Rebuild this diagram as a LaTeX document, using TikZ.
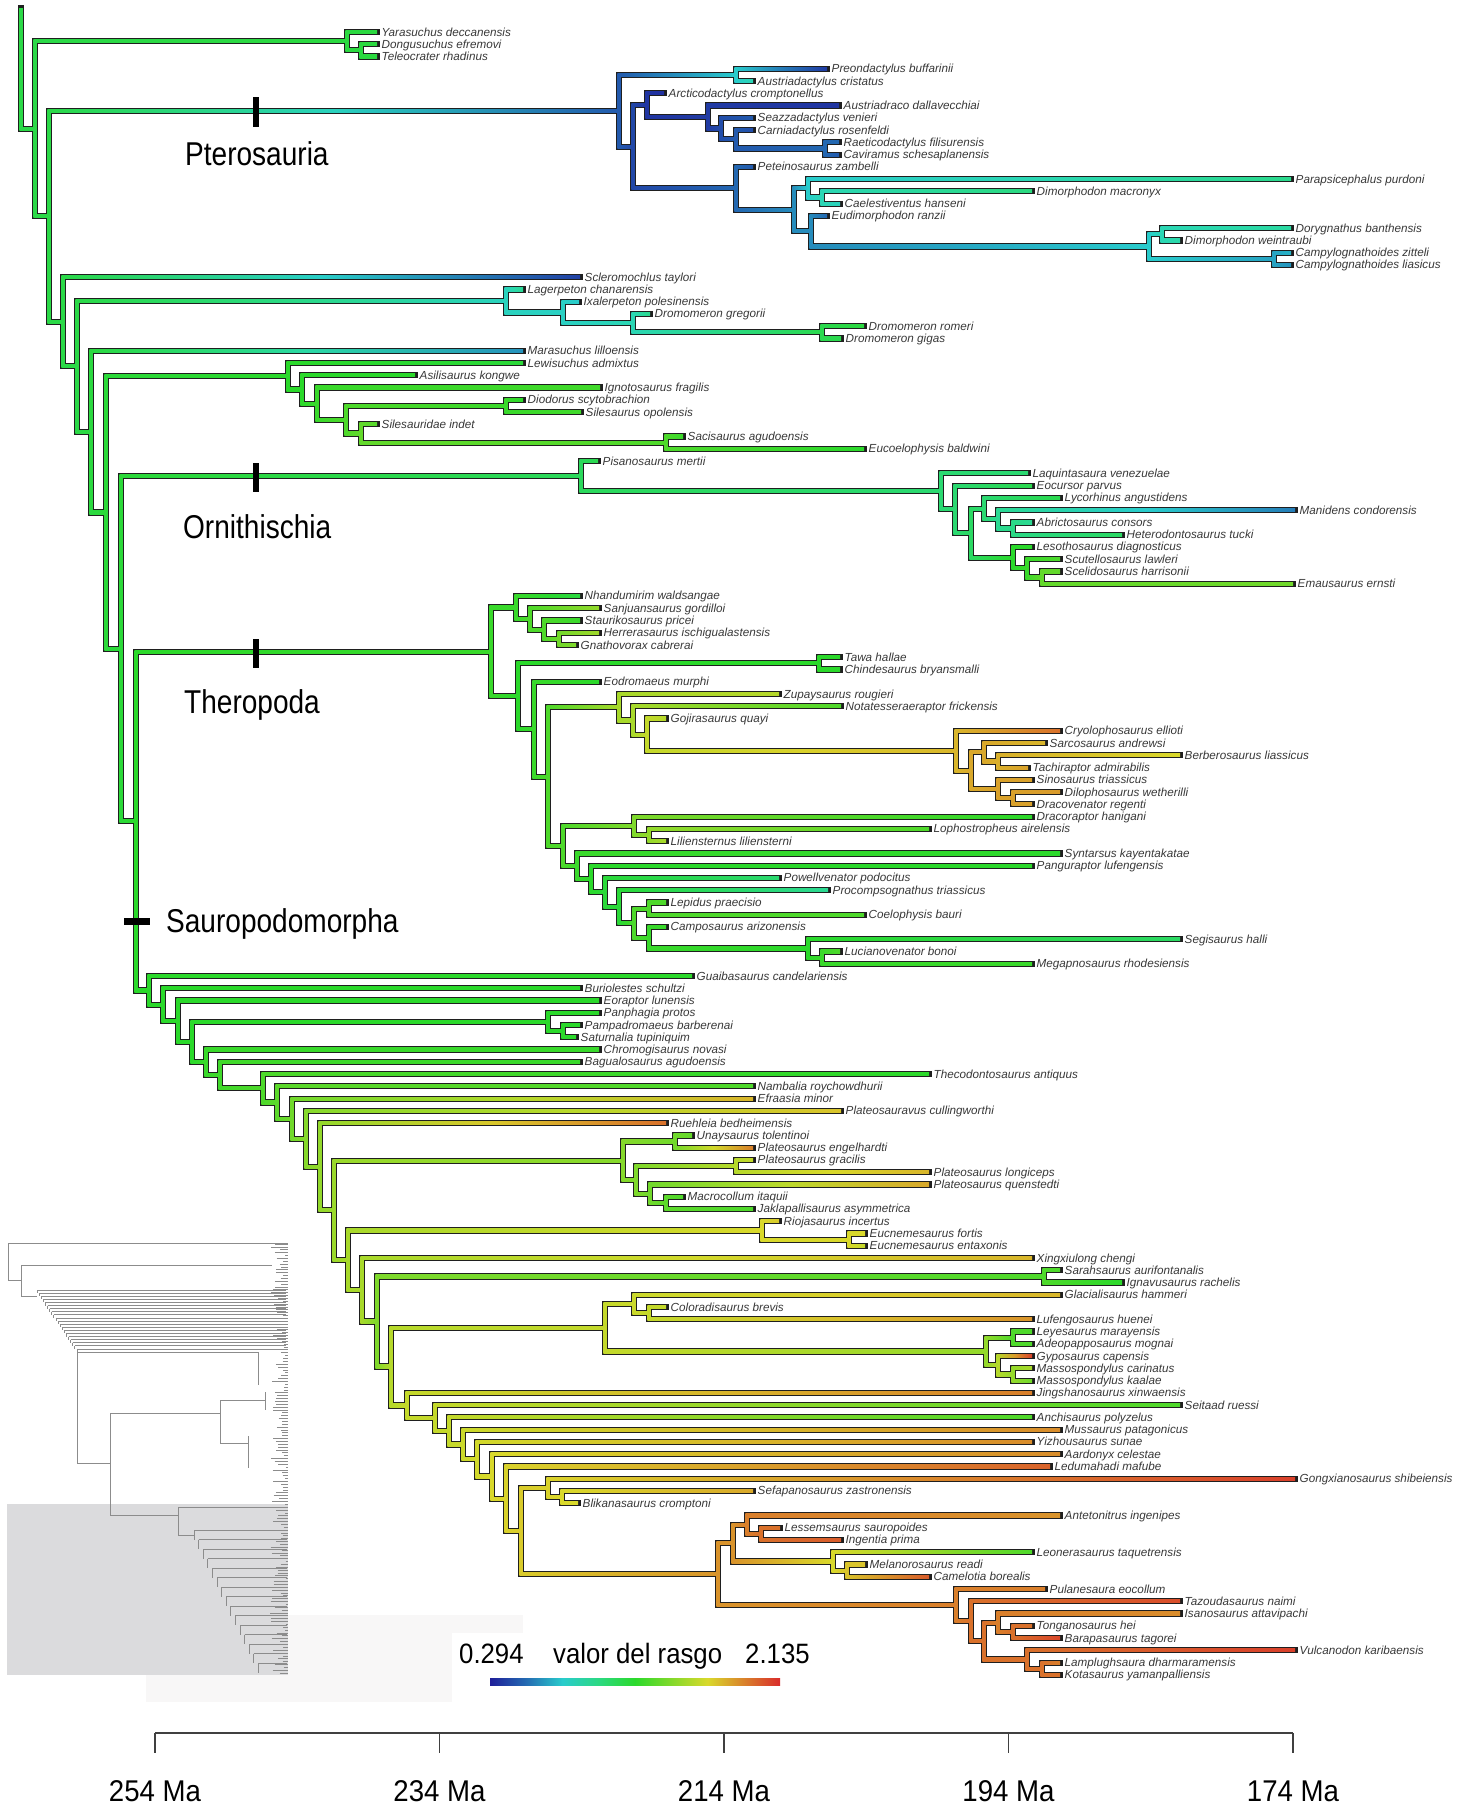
\documentclass[tikz,border=0pt]{standalone}
\usepackage{fontspec}
\setmainfont{Liberation Sans}

% trait colour: 0 = low (blue), 1 = high (red)
\newcommand\traitcol[2]{%
  \pgfmathsetmacro\tch{240*(1-(#2))}%
  \pgfmathsetmacro\tcb{min(0.85,0.6+0.8*(#2))}%
  \definecolor{traithsb}{Hsb}{\tch,0.8,\tcb}%
  \colorlet{#1}[rgb]{traithsb}}

\traitcol{rb0}{0}
\traitcol{rb1}{.125}
\traitcol{rb2}{.25}
\traitcol{rb3}{.375}
\traitcol{rb4}{.5}
\traitcol{rb5}{.625}
\traitcol{rb6}{.75}
\traitcol{rb7}{.875}
\traitcol{rb8}{1}
\pgfdeclarehorizontalshading{traitbar}{100bp}{color(0bp)=(rb0); color(25bp)=(rb0);
  color(31.25bp)=(rb1); color(37.5bp)=(rb2); color(43.75bp)=(rb3); color(50bp)=(rb4);
  color(56.25bp)=(rb5); color(62.5bp)=(rb6); color(68.75bp)=(rb7); color(75bp)=(rb8);
  color(100bp)=(rb8)}

% tree node: name, x, y, trait
\newcommand\treenode[4]{%
  \expandafter\xdef\csname nx@#1\endcsname{#2}%
  \expandafter\xdef\csname ny@#1\endcsname{#3}%
  \expandafter\xdef\csname nt@#1\endcsname{#4}%
  \coordinate (#1) at (#2,#3);}

% branch from parent to child: black rim now, coloured core later
\newcommand\corelist{}
\newcommand\brlink[2]{%
  \draw[rim] (#1) |- (#2);
  \xdef\corelist{\unexpanded\expandafter{\corelist}\noexpand\brcore{#1}{#2}}}
\newcommand\brcore[2]{%
  \edef\blpx{\csname nx@#1\endcsname}%
  \edef\blcx{\csname nx@#2\endcsname}%
  \edef\blcy{\csname ny@#2\endcsname}%
  \edef\blpt{\csname nt@#1\endcsname}%
  \edef\blct{\csname nt@#2\endcsname}%
  \traitcol{pcol}{\blpt}\traitcol{ccol}{\blct}\traitcol{mcol}{(\blpt+\blct)/2}%
  \draw[core, draw=pcol] (#1) -- (#1 |- #2);
  \shade[left color=pcol, right color=ccol, middle color=mcol]
    (\blpx-1.6,\blcy-1.6) rectangle (\blcx,\blcy+1.6);}

% leaf: name, x, row, trait, label
\newcommand\leaf[5]{%
  \pgfmathsetmacro\lfy{19.74+12.26*#3}%
  \treenode{#1}{#2}{\lfy}{#4}%
  \node[tiplab] (#1-lab) at (#2+4.5,\lfy+4) {#5};}

% clade: name, x, trait, child, child
\newcommand\clade[5]{%
  \edef\cla{\csname ny@#4\endcsname}\edef\clb{\csname ny@#5\endcsname}%
  \pgfmathsetmacro\cly{(\cla+\clb)/2}%
  \treenode{#1}{#2}{\cly}{#3}%
  \brlink{#1}{#4}\brlink{#1}{#5}}

\begin{document}
\begin{tikzpicture}[x=1pt, y=-1pt,
    rim/.style={draw=black!88, line width=6.2pt, line cap=rect},
    core/.style={line width=3.2pt},
    tiplab/.style={anchor=base west, inner sep=0pt, text=black!78, font=\fontsize{11.7}{13}\selectfont\itshape},
    cladelab/.style={anchor=base west, inner sep=0pt, xscale=.85, font=\fontsize{33}{36}\selectfont},
    ticklab/.style={anchor=base, inner sep=0pt, xscale=.92, font=\fontsize{30}{32}\selectfont},
    leglab/.style={anchor=base west, inner sep=0pt, xscale=.92, font=\fontsize{28}{30}\selectfont},
    inset/.style={draw=black!45, line width=.7pt}
]
\useasboundingbox (0,0) rectangle (1470,1807);

% Background panels
\fill[red!3!black!3] (146,1615) rectangle (523,1702);
\fill[white] (452,1633) rectangle (820,1702);
\fill[blue!5!black!14] (7,1504) rectangle (288,1675);

% Inset: whole tree in miniature
\draw[inset] (8,1243) -- (8,1280) (8,1243) -- (288,1243) (8,1280) -- (21,1280);
\draw[inset] (21,1265) -- (21,1296) (21,1265) -- (272,1265) (21,1296) -- (37,1296);
\foreach \i in {0,...,19}{
  \pgfmathsetmacro\sx{37+2.1*\i}
  \pgfmathsetmacro\sy{1290+3.1*\i}
  \draw[inset] (\sx,\sy) -- (\sx,\sy+3.1) (\sx,\sy) -- (286,\sy);
}
\draw[inset] (77,1352) -- (77,1463) (77,1352) -- (258,1352) (77,1463) -- (110,1463);
\draw[inset] (258,1352) -- (258,1385);
\draw[inset] (110,1413) -- (110,1515) (110,1413) -- (220,1413) (110,1515) -- (178,1515);
\draw[inset] (220,1400) -- (220,1443) (220,1400) -- (265,1400) (220,1443) -- (248,1443);
\draw[inset] (248,1436) -- (248,1468) (265,1392) -- (265,1410);
\draw[inset] (178,1507) -- (178,1535) (178,1507) -- (286,1507) (178,1535) -- (194,1535);
\foreach \i in {0,...,14}{
  \pgfmathsetmacro\sx{194+4.6*\i}
  \pgfmathsetmacro\sy{1530+9.5*\i}
  \draw[inset] (\sx,\sy) -- (\sx,\sy+9.5) (\sx,\sy) -- (287,\sy);
}
\pgfmathsetseed{11}
\foreach \k in {0,...,150}{
  \pgfmathsetmacro\ty{1244+2.86*\k}
  \pgfmathsetmacro\tl{2+16*rnd}
  \draw[inset] (288-\tl,\ty) -- (288,\ty);
}

% Outgroup
\leaf{yar}{377}{1}{.47}{Yarasuchus deccanensis}
\leaf{don}{377}{2}{.47}{Dongusuchus efremovi}
\leaf{tel}{377}{3}{.47}{Teleocrater rhadinus}
\clade{ya2}{361}{.47}{don}{tel}
\clade{ya1}{347}{.47}{yar}{ya2}

% Pterosaurs
\leaf{pre}{827}{4}{.05}{Preondactylus buffarinii}
\leaf{aus}{753}{5}{.3}{Austriadactylus cristatus}
\clade{p1}{736}{.25}{pre}{aus}
\leaf{arc}{664}{6}{.03}{Arcticodactylus cromptonellus}
\leaf{adr}{839}{7}{.04}{Austriadraco dallavecchiai}
\leaf{sea}{753}{8}{.1}{Seazzadactylus venieri}
\leaf{car}{753}{9}{.08}{Carniadactylus rosenfeldi}
\leaf{rae}{839}{10}{.12}{Raeticodactylus filisurensis}
\leaf{cav}{839}{11}{.1}{Caviramus schesaplanensis}
\clade{p8}{825}{.12}{rae}{cav}
\clade{p7}{736}{.1}{car}{p8}
\clade{p6}{721}{.08}{sea}{p7}
\clade{p5}{708}{.05}{adr}{p6}
\clade{p3}{647}{.04}{arc}{p5}
\leaf{pet}{753}{12}{.1}{Peteinosaurus zambelli}
\leaf{par}{1291}{13}{.36}{Parapsicephalus purdoni}
\leaf{dma}{1032}{14}{.38}{Dimorphodon macronyx}
\leaf{cae}{840}{15}{.28}{Caelestiventus hanseni}
\clade{p12}{822}{.3}{dma}{cae}
\clade{p10}{808}{.25}{par}{p12}
\leaf{eud}{827}{16}{.12}{Eudimorphodon ranzii}
\leaf{dor}{1291}{17}{.33}{Dorygnathus banthensis}
\leaf{dwe}{1180}{18}{.32}{Dimorphodon weintraubi}
\clade{pdo}{1162}{.3}{dor}{dwe}
\leaf{czi}{1291}{19}{.22}{Campylognathoides zitteli}
\leaf{cli}{1291}{20}{.18}{Campylognathoides liasicus}
\clade{pca}{1274}{.2}{czi}{cli}
\clade{p13}{1149}{.25}{pdo}{pca}
\clade{p11}{811}{.17}{eud}{p13}
\clade{p9}{794}{.17}{p10}{p11}
\clade{p4}{736}{.12}{pet}{p9}
\clade{p2}{633}{.07}{p3}{p4}
\clade{p0}{619}{.1}{p1}{p2}

% Scleromochlus, lagerpetids, silesaurs
\leaf{scl}{580}{21}{.06}{Scleromochlus taylori}
\leaf{lag}{523}{22}{.35}{Lagerpeton chanarensis}
\leaf{ixa}{579}{23}{.25}{Ixalerpeton polesinensis}
\leaf{dgr}{650}{24}{.36}{Dromomeron gregorii}
\leaf{dro}{864}{25}{.47}{Dromomeron romeri}
\leaf{dgi}{841}{26}{.45}{Dromomeron gigas}
\clade{l3}{822}{.45}{dro}{dgi}
\clade{l2}{633}{.3}{dgr}{l3}
\clade{l1}{563}{.27}{ixa}{l2}
\clade{l0}{506}{.28}{lag}{l1}
\leaf{mar}{523}{27}{.18}{Marasuchus lilloensis}
\leaf{lew}{523}{28}{.48}{Lewisuchus admixtus}
\leaf{asi}{415}{29}{.5}{Asilisaurus kongwe}
\leaf{ign}{600}{30}{.53}{Ignotosaurus fragilis}
\leaf{dio}{523}{31}{.5}{Diodorus scytobrachion}
\leaf{sil}{581}{32}{.53}{Silesaurus opolensis}
\clade{s4}{506}{.52}{dio}{sil}
\leaf{sin}{377}{33}{.56}{Silesauridae indet}
\leaf{sac}{683}{34}{.52}{Sacisaurus agudoensis}
\leaf{euc}{864}{35}{.5}{Eucoelophysis baldwini}
\clade{s6}{666}{.55}{sac}{euc}
\clade{s5}{361}{.58}{sin}{s6}
\clade{s3}{346}{.55}{s4}{s5}
\clade{s2}{317}{.52}{ign}{s3}
\clade{s1}{302}{.5}{asi}{s2}
\clade{s0}{288}{.5}{lew}{s1}

% Ornithischians
\leaf{pis}{598}{36}{.45}{Pisanosaurus mertii}
\leaf{laq}{1028}{37}{.4}{Laquintasaura venezuelae}
\leaf{eoc}{1032}{38}{.45}{Eocursor parvus}
\leaf{lyc}{1060}{39}{.45}{Lycorhinus angustidens}
\leaf{man}{1295}{40}{.15}{Manidens condorensis}
\leaf{abr}{1032}{41}{.35}{Abrictosaurus consors}
\leaf{het}{1122}{42}{.42}{Heterodontosaurus tucki}
\clade{o6}{1013}{.37}{abr}{het}
\clade{o5}{998}{.35}{man}{o6}
\clade{o4}{984}{.4}{lyc}{o5}
\leaf{les}{1032}{43}{.5}{Lesothosaurus diagnosticus}
\leaf{scu}{1060}{44}{.55}{Scutellosaurus lawleri}
\leaf{sce}{1060}{45}{.58}{Scelidosaurus harrisonii}
\leaf{ema}{1293}{46}{.6}{Emausaurus ernsti}
\clade{o9}{1042}{.58}{sce}{ema}
\clade{o8}{1027}{.52}{scu}{o9}
\clade{o7}{1013}{.5}{les}{o8}
\clade{o3}{971}{.42}{o4}{o7}
\clade{o2}{955}{.4}{eoc}{o3}
\clade{o1}{941}{.4}{laq}{o2}
\clade{o0}{581}{.43}{pis}{o1}

% Theropods
\leaf{nha}{580}{47}{.47}{Nhandumirim waldsangae}
\leaf{san}{599}{48}{.65}{Sanjuansaurus gordilloi}
\leaf{sta}{580}{49}{.52}{Staurikosaurus pricei}
\leaf{her}{599}{50}{.67}{Herrerasaurus ischigualastensis}
\leaf{gna}{576}{51}{.62}{Gnathovorax cabrerai}
\clade{h3}{559}{.6}{her}{gna}
\clade{h2}{544}{.55}{sta}{h3}
\clade{h1}{530}{.55}{san}{h2}
\clade{h0}{516}{.52}{nha}{h1}
\leaf{taw}{840}{52}{.5}{Tawa hallae}
\leaf{chi}{840}{53}{.5}{Chindesaurus bryansmalli}
\clade{tw}{819}{.5}{taw}{chi}
\leaf{eod}{599}{54}{.5}{Eodromaeus murphi}
\leaf{zup}{779}{55}{.7}{Zupaysaurus rougieri}
\leaf{not}{841}{56}{.55}{Notatesseraeraptor frickensis}
\leaf{goj}{666}{57}{.7}{Gojirasaurus quayi}
\leaf{cry}{1060}{58}{.9}{Cryolophosaurus ellioti}
\leaf{sar}{1045}{59}{.8}{Sarcosaurus andrewsi}
\leaf{ber}{1180}{60}{.75}{Berberosaurus liassicus}
\leaf{tac}{1028}{61}{.83}{Tachiraptor admirabilis}
\clade{t9c}{998}{.81}{ber}{tac}
\clade{t9a}{984}{.82}{sar}{t9c}
\leaf{sis}{1032}{62}{.83}{Sinosaurus triassicus}
\leaf{dil}{1060}{63}{.84}{Dilophosaurus wetherilli}
\leaf{drv}{1032}{64}{.83}{Dracovenator regenti}
\clade{t9d}{1013}{.83}{dil}{drv}
\clade{t9b}{998}{.83}{sis}{t9d}
\clade{t8}{971}{.82}{t9a}{t9b}
\clade{t7}{956}{.8}{cry}{t8}
\clade{t6}{647}{.72}{goj}{t7}
\clade{t5}{633}{.68}{not}{t6}
\clade{t4}{619}{.68}{zup}{t5}
\leaf{drr}{1032}{65}{.5}{Dracoraptor hanigani}
\leaf{lop}{929}{66}{.55}{Lophostropheus airelensis}
\leaf{lil}{666}{67}{.68}{Liliensternus liliensterni}
\clade{t12}{649}{.65}{lop}{lil}
\clade{t11}{634}{.62}{drr}{t12}
\leaf{syn}{1060}{68}{.5}{Syntarsus kayentakatae}
\leaf{pan}{1032}{69}{.5}{Panguraptor lufengensis}
\leaf{pow}{779}{70}{.4}{Powellvenator podocitus}
\leaf{pro}{828}{71}{.35}{Procompsognathus triassicus}
\leaf{lep}{666}{72}{.55}{Lepidus praecisio}
\leaf{coe}{864}{73}{.55}{Coelophysis bauri}
\clade{t18}{649}{.55}{lep}{coe}
\leaf{cam}{666}{74}{.52}{Camposaurus arizonensis}
\leaf{seg}{1180}{75}{.42}{Segisaurus halli}
\leaf{luc}{840}{76}{.55}{Lucianovenator bonoi}
\leaf{meg}{1032}{77}{.52}{Megapnosaurus rhodesiensis}
\clade{t21}{822}{.52}{luc}{meg}
\clade{t20}{808}{.5}{seg}{t21}
\clade{t19}{649}{.52}{cam}{t20}
\clade{t17}{634}{.55}{t18}{t19}
\clade{t16}{619}{.48}{pro}{t17}
\clade{t15}{605}{.48}{pow}{t16}
\clade{t14}{591}{.5}{pan}{t15}
\clade{t13}{577}{.52}{syn}{t14}
\clade{t10}{563}{.55}{t11}{t13}
\clade{t3}{548}{.55}{t4}{t10}
\clade{t2}{534}{.52}{eod}{t3}
\clade{t1}{518}{.5}{tw}{t2}
\clade{t0}{491}{.52}{h0}{t1}

% Sauropodomorphs
\leaf{gua}{692}{78}{.5}{Guaibasaurus candelariensis}
\leaf{bur}{580}{79}{.5}{Buriolestes schultzi}
\leaf{eor}{599}{80}{.5}{Eoraptor lunensis}
\leaf{pph}{599}{81}{.5}{Panphagia protos}
\leaf{pam}{580}{82}{.5}{Pampadromaeus barberenai}
\leaf{sat}{576}{83}{.5}{Saturnalia tupiniquim}
\clade{pp1}{563}{.5}{pam}{sat}
\clade{pp0}{548}{.5}{pph}{pp1}
\leaf{chr}{599}{84}{.52}{Chromogisaurus novasi}
\leaf{bag}{580}{85}{.52}{Bagualosaurus agudoensis}
\leaf{the}{929}{86}{.5}{Thecodontosaurus antiquus}
\leaf{nam}{753}{87}{.55}{Nambalia roychowdhurii}
\leaf{efr}{753}{88}{.8}{Efraasia minor}
\leaf{plv}{841}{89}{.78}{Plateosauravus cullingworthi}
\leaf{rue}{666}{90}{.9}{Ruehleia bedheimensis}
\leaf{una}{692}{91}{.58}{Unaysaurus tolentinoi}
\leaf{pen}{753}{92}{.88}{Plateosaurus engelhardti}
\clade{pl1}{675}{.6}{una}{pen}
\leaf{pgr}{753}{93}{.72}{Plateosaurus gracilis}
\leaf{plo}{929}{94}{.8}{Plateosaurus longiceps}
\clade{pl3}{736}{.7}{pgr}{plo}
\leaf{pqu}{929}{95}{.82}{Plateosaurus quenstedti}
\leaf{mac}{683}{96}{.55}{Macrocollum itaquii}
\leaf{jak}{753}{97}{.55}{Jaklapallisaurus asymmetrica}
\clade{pl5}{666}{.57}{mac}{jak}
\clade{pl4}{650}{.6}{pqu}{pl5}
\clade{pl2}{636}{.62}{pl3}{pl4}
\clade{pl0}{623}{.63}{pl1}{pl2}
\leaf{rio}{779}{98}{.77}{Riojasaurus incertus}
\leaf{efo}{865}{99}{.75}{Eucnemesaurus fortis}
\leaf{ent}{865}{100}{.72}{Eucnemesaurus entaxonis}
\clade{r1}{849}{.75}{efo}{ent}
\clade{r0}{762}{.75}{rio}{r1}
\leaf{xin}{1032}{101}{.8}{Xingxiulong chengi}
\leaf{srh}{1060}{102}{.55}{Sarahsaurus aurifontanalis}
\leaf{ignv}{1122}{103}{.5}{Ignavusaurus rachelis}
\clade{srn}{1044}{.55}{srh}{ignv}
\leaf{gla}{1060}{104}{.8}{Glacialisaurus hammeri}
\leaf{col}{666}{105}{.72}{Coloradisaurus brevis}
\leaf{luf}{1032}{106}{.85}{Lufengosaurus huenei}
\clade{m2}{649}{.72}{col}{luf}
\clade{m1}{634}{.73}{gla}{m2}
\leaf{ley}{1032}{107}{.55}{Leyesaurus marayensis}
\leaf{ade}{1032}{108}{.55}{Adeopapposaurus mognai}
\clade{m4}{1013}{.55}{ley}{ade}
\leaf{gyp}{1032}{109}{.97}{Gyposaurus capensis}
\leaf{mca}{1032}{110}{.68}{Massospondylus carinatus}
\leaf{mka}{1032}{111}{.6}{Massospondylus kaalae}
\clade{m6}{1013}{.65}{mca}{mka}
\clade{m5}{998}{.7}{gyp}{m6}
\clade{m3}{986}{.65}{m4}{m5}
\clade{m0}{605}{.72}{m1}{m3}
\leaf{jin}{1032}{112}{.88}{Jingshanosaurus xinwaensis}
\leaf{sei}{1180}{113}{.55}{Seitaad ruessi}
\leaf{anc}{1032}{114}{.55}{Anchisaurus polyzelus}
\leaf{mus}{1060}{115}{.86}{Mussaurus patagonicus}
\leaf{yiz}{1032}{116}{.86}{Yizhousaurus sunae}
\leaf{aar}{1060}{117}{.86}{Aardonyx celestae}
\leaf{led}{1050}{118}{.92}{Ledumahadi mafube}
\leaf{gon}{1295}{119}{.97}{Gongxianosaurus shibeiensis}
\leaf{sef}{753}{120}{.82}{Sefapanosaurus zastronensis}
\leaf{bli}{578}{121}{.75}{Blikanasaurus cromptoni}
\clade{sf}{562}{.75}{sef}{bli}
\clade{gsf}{548}{.76}{gon}{sf}

% Sauropods
\leaf{ant}{1060}{122}{.85}{Antetonitrus ingenipes}
\leaf{lss}{780}{123}{.9}{Lessemsaurus sauropoides}
\leaf{ing}{841}{124}{.93}{Ingentia prima}
\clade{sa2b}{761}{.9}{lss}{ing}
\clade{sa2}{747}{.88}{ant}{sa2b}
\leaf{leo}{1032}{125}{.55}{Leonerasaurus taquetrensis}
\leaf{mel}{865}{126}{.78}{Melanorosaurus readi}
\leaf{cml}{929}{127}{.93}{Camelotia borealis}
\clade{sa3b}{847}{.78}{mel}{cml}
\clade{sa3}{833}{.75}{leo}{sa3b}
\clade{sa1}{733}{.85}{sa2}{sa3}
\leaf{pul}{1045}{128}{.88}{Pulanesaura eocollum}
\leaf{taz}{1180}{129}{.95}{Tazoudasaurus naimi}
\leaf{isa}{1180}{130}{.86}{Isanosaurus attavipachi}
\leaf{ton}{1032}{131}{.9}{Tonganosaurus hei}
\leaf{bar}{1060}{132}{.96}{Barapasaurus tagorei}
\clade{sa8b}{1013}{.9}{ton}{bar}
\clade{sa8}{998}{.88}{isa}{sa8b}
\leaf{vul}{1295}{133}{.97}{Vulcanodon karibaensis}
\leaf{lam}{1060}{134}{.88}{Lamplughsaura dharmaramensis}
\leaf{kot}{1060}{135}{.9}{Kotasaurus yamanpalliensis}
\clade{sa9b}{1042}{.9}{lam}{kot}
\clade{sa9}{1027}{.9}{vul}{sa9b}
\clade{sa7}{984}{.9}{sa8}{sa9}
\clade{sa6}{971}{.9}{taz}{sa7}
\clade{sa5}{956}{.88}{pul}{sa6}
\clade{sau}{718}{.85}{sa1}{sa5}

% Sauropodomorph backbone
\clade{sp24}{521}{.77}{gsf}{sau}
\clade{sp23}{506}{.76}{led}{sp24}
\clade{sp22}{492}{.75}{aar}{sp23}
\clade{sp21}{477}{.74}{yiz}{sp22}
\clade{sp20}{463}{.73}{mus}{sp21}
\clade{sp19}{449}{.72}{anc}{sp20}
\clade{sp18}{435}{.72}{sei}{sp19}
\clade{sp17}{407}{.72}{jin}{sp18}
\clade{sp16}{391}{.7}{m0}{sp17}
\clade{sp15}{377}{.62}{srn}{sp16}
\clade{sp14}{362}{.68}{xin}{sp15}
\clade{sp13}{348}{.68}{r0}{sp14}
\clade{sp12}{334}{.66}{pl0}{sp13}
\clade{sp11}{320}{.65}{rue}{sp12}
\clade{sp10}{306}{.63}{plv}{sp11}
\clade{sp9}{292}{.6}{efr}{sp10}
\clade{sp8}{277}{.57}{nam}{sp9}
\clade{sp7}{263}{.55}{the}{sp8}
\clade{sp6}{220}{.53}{bag}{sp7}
\clade{sp5}{206}{.52}{chr}{sp6}
\clade{sp3}{192}{.5}{pp0}{sp5}
\clade{sp2}{178}{.5}{eor}{sp3}
\clade{sp1}{163}{.5}{bur}{sp2}
\clade{sp}{149}{.5}{gua}{sp1}

% Main backbone
\clade{H}{136}{.5}{t0}{sp}
\clade{G}{121}{.48}{o0}{H}
\clade{F}{106}{.48}{s0}{G}
\clade{E}{91}{.47}{mar}{F}
\clade{D}{77}{.46}{l0}{E}
\clade{C}{63}{.46}{scl}{D}
\clade{B}{49}{.46}{p0}{C}
\clade{A}{35}{.46}{ya1}{B}
\treenode{root}{21}{8}{.46}
\brlink{root}{A}

% Coloured cores on top of the rims
\corelist

% Clade marks
\fill (252.5,97) rectangle (258.5,127);
\node[cladelab] (ptero) at (185,165.7) {Pterosauria};
\fill (252.5,463) rectangle (258.5,492);
\node[cladelab] (ornith) at (183,538) {Ornithischia};
\fill (252.5,639) rectangle (258.5,668);
\node[cladelab] (thero) at (184,713) {Theropoda};
\fill (124,917.5) rectangle (150,924.5);
\node[cladelab] (sauro) at (166,932) {Sauropodomorpha};

% Legend
\node[leglab] (lo) at (459,1663) {0.294};
\node[leglab] (legtitle) at (553,1663) {valor del rasgo};
\node[leglab] (hi) at (745,1663) {2.135};
\shade[shading=traitbar] (490,1678.5) rectangle (780,1685.5);

% Time axis
\draw[black!75, line width=1.5pt] (155,1733) -- (1293,1733);
\foreach \x/\ma in {155/254, 439.5/234, 724/214, 1008.5/194, 1293/174}{
  \draw[black!75, line width=1.5pt] (\x,1733) -- (\x,1753);
  \node[ticklab] (ax\ma) at (\x,1801) {\ma{} Ma};
}
\end{tikzpicture}
\end{document}
